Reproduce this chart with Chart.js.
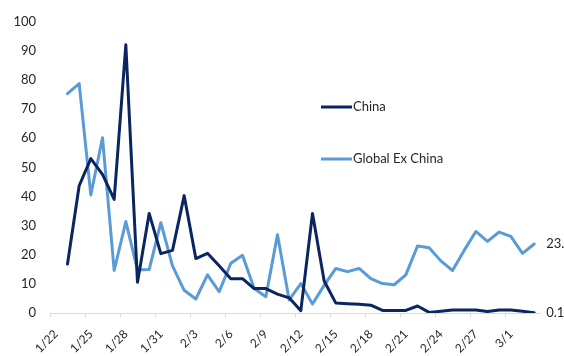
<!DOCTYPE html>
<html>
<head>
<meta charset="utf-8">
<script src="https://cdn.jsdelivr.net/npm/chart.js@4/dist/chart.umd.min.js"></script>
<style>
  html, body { margin: 0; padding: 0; background: #fff; }
  #wrap { width: 564px; height: 356px; position: relative; }
</style>
</head>
<body>
<div id="wrap"><canvas id="c" width="564" height="356"></canvas></div>
<script>
// Daily dates on the category axis
const dates = [
  '1/22','1/23','1/24','1/25','1/26','1/27','1/28','1/29','1/30','1/31',
  '2/1','2/2','2/3','2/4','2/5','2/6','2/7','2/8','2/9','2/10',
  '2/11','2/12','2/13','2/14','2/15','2/16','2/17','2/18','2/19','2/20',
  '2/21','2/22','2/23','2/24','2/25','2/26','2/27','2/28','2/29','3/1',
  '3/2','3/3'
];

const china = [
  null, 16.8, 43.7, 53.0, 47.6, 39.0, 92.1, 10.6, 34.2, 20.4,
  21.5, 40.3, 18.7, 20.5, 16.2, 11.8, 11.8, 8.4, 8.4, 6.5,
  5.2, 0.8, 34.2, 11.0, 3.4, 3.2, 3.0, 2.7, 0.9, 0.9,
  0.9, 2.4, 0.2, 0.6, 1.0, 1.0, 1.0, 0.5, 1.0, 1.0,
  0.6, 0.1
];

const globalExChina = [
  null, 75.3, 78.8, 40.5, 60.2, 14.6, 31.4, 14.8, 14.9, 31.0,
  16.2, 7.8, 4.8, 13.1, 7.3, 17.1, 19.8, 8.4, 5.6, 26.9,
  4.5, 10.1, 3.1, 9.5, 15.3, 14.2, 15.3, 11.8, 10.1, 9.7,
  13.1, 23.0, 22.4, 17.9, 14.6, 21.5, 28.0, 24.6, 27.8, 26.3,
  20.5, 23.7
];

const yTicks = [0, 10, 20, 30, 40, 50, 60, 70, 80, 90, 100];

const FONT = 'Lato, "Open Sans", sans-serif';
const TEXT = '#262626';
const DARK = '#0B2560';
const LIGHT = '#5B9BD5';

// Legend drawn inside the plot, plus value labels at the end of each line
const overlay = {
  id: 'overlay',
  afterDatasetsDraw(chart) {
    const ctx = chart.ctx;
    ctx.save();
    ctx.font = '13px ' + FONT;
    ctx.textBaseline = 'middle';
    ctx.lineCap = 'butt';

    const items = [
      { label: 'China', color: DARK, y: 107 },
      { label: 'Global Ex China', color: LIGHT, y: 159 }
    ];
    items.forEach(it => {
      ctx.strokeStyle = it.color;
      ctx.lineWidth = 3;
      ctx.beginPath();
      ctx.moveTo(321, it.y);
      ctx.lineTo(352, it.y);
      ctx.stroke();
      ctx.fillStyle = TEXT;
      ctx.textAlign = 'left';
      ctx.fillText(it.label, 353, it.y);
    });

    chart.data.datasets.forEach((ds, i) => {
      const meta = chart.getDatasetMeta(i);
      const last = ds.data.length - 1;
      const pt = meta.data[last];
      ctx.fillStyle = TEXT;
      ctx.textAlign = 'left';
      ctx.fillText(ds.data[last].toFixed(1), pt.x + 12, pt.y);
    });
    ctx.restore();
  }
};

new Chart(document.getElementById('c'), {
  type: 'line',
  data: {
    labels: dates,
    datasets: [
      {
        label: 'China',
        data: china,
        borderColor: DARK,
        borderWidth: 3,
        pointRadius: 0,
        tension: 0,
        borderJoinStyle: 'round',
        borderCapStyle: 'round'
      },
      {
        label: 'Global Ex China',
        data: globalExChina,
        borderColor: LIGHT,
        borderWidth: 3,
        pointRadius: 0,
        tension: 0,
        borderJoinStyle: 'round',
        borderCapStyle: 'round'
      }
    ]
  },
  options: {
    responsive: false,
    animation: false,
    events: [],
    layout: { padding: { top: 16, right: 24, left: 0, bottom: 0 } },
    plugins: {
      legend: { display: false },
      tooltip: { enabled: false }
    },
    scales: {
      x: {
        type: 'category',
        offset: true,
        grid: {
          offset: true,
          drawOnChartArea: false,
          drawTicks: true,
          tickLength: 4,
          color: ctx => (ctx.index % 3 === 0 ? '#D9D9D9' : 'rgba(0,0,0,0)'),
          lineWidth: 1
        },
        border: { display: true, color: '#D9D9D9', width: 1 },
        ticks: {
          autoSkip: false,
          maxRotation: 45,
          minRotation: 45,
          padding: 10,
          color: TEXT,
          font: { family: FONT, size: 12 },
          callback: function (value, index) {
            return index % 3 === 0 ? dates[index] : '';
          }
        },
        afterFit(scale) { scale.height = 43; }
      },
      y: {
        min: 0,
        max: 100,
        afterBuildTicks(scale) { scale.ticks = yTicks.map(v => ({ value: v })); },
        grid: { display: false, drawTicks: false },
        border: { display: false },
        ticks: {
          padding: 14,
          color: TEXT,
          font: { family: FONT, size: 13 }
        },
        afterFit(scale) { scale.width = 50; }
      }
    }
  },
  plugins: [overlay]
});
</script>
</body>
</html>
